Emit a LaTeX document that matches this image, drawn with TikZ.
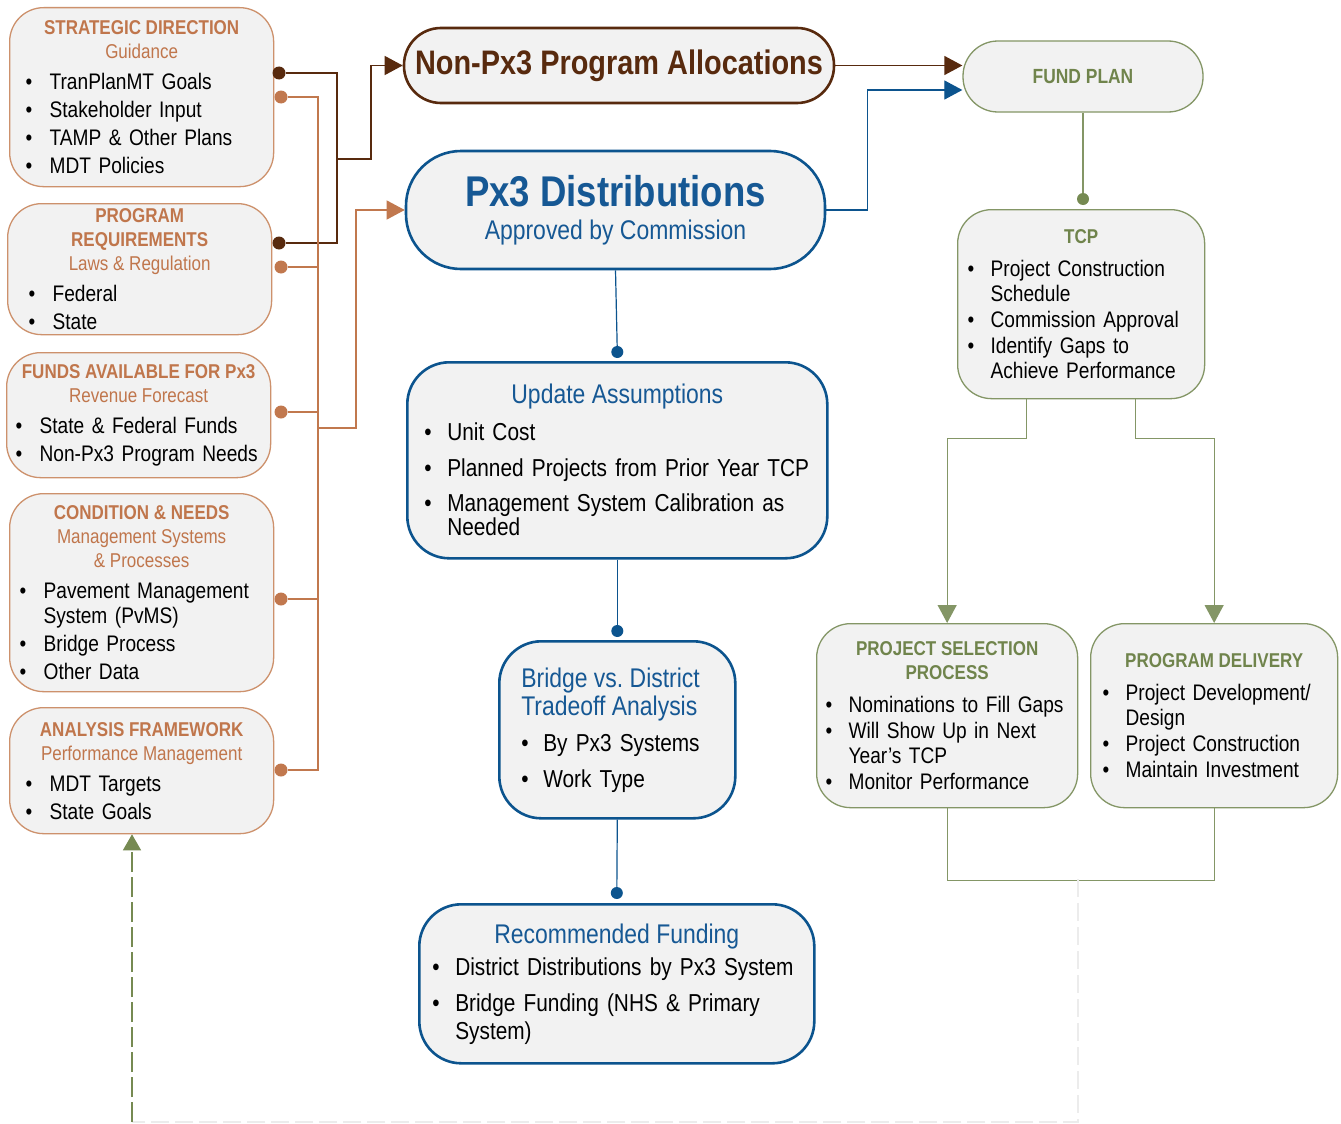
\documentclass[tikz,border=0pt]{standalone}
\usepackage{fontspec}
\setmainfont{Liberation Sans}[FakeStretch=0.85]
\usepackage{xcolor}
\usetikzlibrary{shapes,arrows,arrows.meta,positioning,calc}

\definecolor{boxfill}{HTML}{F2F2F2}
\definecolor{brline}{RGB}{205,145,108}
\definecolor{brtext}{RGB}{192,118,76}
\definecolor{brdot}{RGB}{193,120,78}
\definecolor{darkbr}{RGB}{88,42,14}
\definecolor{pxblue}{RGB}{12,84,142}
\definecolor{bltext}{RGB}{22,88,148}
\definecolor{grline}{RGB}{132,150,102}
\definecolor{grtext}{RGB}{112,132,76}
\definecolor{grarrow}{RGB}{118,138,82}
\definecolor{faint}{RGB}{236,236,236}
\colorlet{hdc}{brtext}

\setlength\parindent{0pt}
\frenchspacing
\newlength\itsep
\newlength\hdsep
\newlength\bind
% font size with word space fixed to the size in force
\newcommand\fs[2]{\fontsize{#1}{#2}\selectfont\spaceskip=0.236em plus 0.08em minus 0.04em\relax}
\newcommand\hd[1]{{\centering\fs{20}{24}\bfseries\spaceskip=0.236em\relax\color{hdc}#1\par}}
\newcommand\subhd[1]{{\centering\fs{20}{24}\color{hdc}#1\par}}
\newcommand\ttl[2][\centering]{{#1\fs{27}{28}\color{bltext}#2\par}}
\newcommand\hdgap{\vspace{\hdsep}}
\newcommand\bitem[1]{\par\vspace{\itsep}\noindent\hangindent=\bind\hangafter=1\makebox[\bind][l]{\textbullet}#1\par}

\tikzset{
  box/.style={fill=boxfill, anchor=north west, inner ysep=0pt},
  lbox/.style={box, draw=brline, line width=1.3pt, rounded corners=34pt,
    font=\fs{22.5}{25},
    execute at begin node={\colorlet{hdc}{brtext}\setlength\itsep{3pt}\setlength\hdsep{3pt}\setlength\bind{24pt}\raggedright}},
  cbox/.style={box, draw=pxblue, line width=2.6pt, rounded corners=42pt,
    font=\fs{24.5}{24},
    execute at begin node={\setlength\itsep{11.5pt}\setlength\hdsep{1.5pt}\setlength\bind{23pt}\raggedright}},
  rbox/.style={box, draw=grline, line width=1.3pt, rounded corners=34pt,
    font=\fs{22.5}{25},
    execute at begin node={\colorlet{hdc}{grtext}\setlength\itsep{1pt}\setlength\hdsep{7pt}\setlength\bind{23pt}\raggedright}},
  dot/.style={circle, inner sep=0pt, minimum size=13pt},
  dkln/.style={draw=darkbr, line width=1.3pt},
  orln/.style={draw=brdot, line width=1.2pt},
  blln/.style={draw=pxblue, line width=1.2pt},
  grln/.style={draw=grline, line width=1.3pt},
  tip/.style={-{Triangle[length=18pt,width=19pt]}},
  fbline/.style={draw=faint, line width=1.2pt, dash pattern=on 18pt off 6pt},
  fbarrow/.style={draw=grarrow, line width=1.2pt, dash pattern=on 20pt off 5pt, -{Triangle[length=16pt,width=18pt]}}
}

\begin{document}
\begin{tikzpicture}[x=1pt,y=-1pt]
  \path[use as bounding box,fill=white] (0,0) rectangle (1341,1124);

  % left column: inputs
  \node[lbox,minimum width=264pt,minimum height=179pt,text width=232pt,inner xsep=16pt] (strat) at (9,7)
    {\hd{STRATEGIC DIRECTION}\subhd{Guidance}\hdgap
     \bitem{TranPlanMT Goals}\bitem{Stakeholder Input}\bitem{TAMP \& Other Plans}\bitem{MDT Policies}};
  \node[lbox,minimum width=264pt,minimum height=131pt,text width=222pt,inner xsep=21pt] (preq) at (7,203)
    {\hd{PROGRAM}\hd{REQUIREMENTS}\subhd{Laws \& Regulation}\hdgap
     \bitem{Federal}\bitem{State}};
  \node[lbox,minimum width=264pt,minimum height=125pt,text width=246pt,inner xsep=9pt] (funds) at (6,352)
    {\hd{FUNDS AVAILABLE FOR Px3}\subhd{Revenue Forecast}\hdgap
     \bitem{State \& Federal Funds}\bitem{Non-Px3 Program Needs}\vspace{-6pt}};
  \node[lbox,minimum width=264pt,minimum height=198pt,text width=244pt,inner xsep=10pt] (cond) at (9,493)
    {\hd{CONDITION \& NEEDS}\subhd{Management Systems}\subhd{\& Processes}\hdgap
     \bitem{Pavement Management\newline System (PvMS)}\bitem{Bridge Process}\bitem{Other Data}};
  \node[lbox,minimum width=264pt,minimum height=126pt,text width=232pt,inner xsep=16pt] (anal) at (9,707)
    {\hd{ANALYSIS FRAMEWORK}\subhd{Performance Management}\hdgap
     \bitem{MDT Targets}\bitem{State Goals}};

  % middle column
  \node[draw=darkbr,line width=2.6pt,fill=boxfill,rounded corners=37pt,minimum width=430pt,minimum height=75pt,
    text=darkbr,font=\bfseries\fs{34}{40}] (nonpx) at (619,65.5) {Non-Px3 Program Allocations};
  \node[draw=pxblue,line width=2.6pt,fill=boxfill,rounded corners=55pt,minimum width=419pt,minimum height=118pt,
    text width=400pt,inner xsep=9.5pt,text=bltext] (px3) at (615.5,210)
    {\centering{\bfseries\fs{43}{46}Px3 Distributions\par}\fs{27}{33}Approved by Commission\par};
  \node[cbox,minimum width=420pt,minimum height=196pt,text width=386pt,inner xsep=17pt] (upd) at (406,361)
    {\ttl{Update Assumptions}\hdgap
     \bitem{Unit Cost}\bitem{Planned Projects from Prior Year TCP}\bitem{Management System Calibration as\newline Needed}};
  \node[cbox,minimum width=236pt,minimum height=177pt,text width=192pt,inner xsep=22pt,
    execute at begin node={\setlength\itsep{12pt}\setlength\hdsep{0pt}\setlength\bind{22pt}}] (bridge) at (498,640)
    {\ttl[\raggedright]{Bridge vs. District\newline Tradeoff Analysis}\hdgap
     \bitem{By Px3 Systems}\bitem{Work Type}};
  \node[cbox,minimum width=395pt,minimum height=159pt,text width=369pt,inner xsep=13pt,font=\fs{24.5}{28},
    execute at begin node={\setlength\itsep{8pt}\setlength\hdsep{-4pt}}] (rec) at (418,903)
    {\ttl{Recommended Funding}\hdgap
     \bitem{District Distributions by Px3 System}\bitem{Bridge Funding (NHS \& Primary\newline System)}\vspace{-8pt}};

  % right column
  \node[draw=grline,line width=1.3pt,fill=boxfill,rounded corners=35pt,minimum width=240pt,minimum height=71pt,
    text=grtext,font=\bfseries\fs{20.5}{24}] (fund) at (1083,76.5) {FUND PLAN};
  \node[rbox,minimum width=247pt,minimum height=189pt,text width=227pt,inner xsep=10pt] (tcp) at (957,209)
    {\hd{TCP}\hdgap
     \bitem{Project Construction\newline Schedule}\bitem{Commission Approval}\bitem{Identify Gaps to\newline Achieve Performance}};
  \node[rbox,minimum width=261pt,minimum height=184pt,text width=243pt,inner xsep=9pt] (psel) at (816,623)
    {\hd{PROJECT SELECTION}\hd{PROCESS}\hdgap
     \bitem{Nominations to Fill Gaps}\bitem{Will Show Up in Next\newline Year’s TCP}\bitem{Monitor Performance}};
  \node[rbox,minimum width=247pt,minimum height=184pt,text width=223pt,inner xsep=12pt] (pdel) at (1090,623)
    {\hd{PROGRAM DELIVERY}\hdgap
     \bitem{Project Development/\newline Design}\bitem{Project Construction}\bitem{Maintain Investment}};

  % dots
  \node[dot,fill=darkbr] (sd) at (279,73) {};
  \node[dot,fill=darkbr] (pd) at (279,243) {};
  \node[dot,fill=brdot] (so) at (281,97) {};
  \node[dot,fill=brdot] (po) at (281,267) {};
  \node[dot,fill=brdot] (fo) at (281,412) {};
  \node[dot,fill=brdot] (co) at (281,599) {};
  \node[dot,fill=brdot] (ao) at (281,770) {};
  \node[dot,fill=pxblue,minimum size=12pt] (ud) at ([yshift=9pt]upd.north) {};
  \node[dot,fill=pxblue,minimum size=12pt] (bd) at ([yshift=9pt]bridge.north) {};
  \node[dot,fill=pxblue,minimum size=12pt] (rd) at ([yshift=10pt]rec.north) {};
  \node[dot,fill=grarrow,minimum size=12pt] (td) at (fund.south |- 0,199) {};

  % bus lines on the left
  \coordinate (dbus) at (337,0);
  \coordinate (obus) at (318,0);
  \draw[dkln] (sd) -| (dbus |- pd) -- (pd);
  \draw[dkln,tip] (dbus |- 0,159) -- ++(34,0) |- (nonpx.west);
  \draw[orln] (so) -| (obus |- ao) -- (ao);
  \draw[orln] (po) -- (po -| obus);
  \draw[orln] (fo) -- (fo -| obus);
  \draw[orln] (co) -- (co -| obus);
  \draw[orln,tip] (obus |- 0,428) -- ++(38,0) |- (px3.west);

  % middle chain
  \draw[blln] (px3.south) -- (ud);
  \draw[blln] (upd.south) -- (bd);
  \draw[blln] (bridge.south) -- (rd);
  \draw[dkln,tip] (nonpx.east) -- (nonpx.east -| fund.west);
  \draw[blln,tip] (px3.east) -- ++(41,0) |- ([yshift=-13.5pt]fund.west);

  % right chain
  \draw[grln] (fund.south) -- (td);
  \draw[grln,tip] ([xshift=-54.5pt]tcp.south) -- ++(0,39) -| (psel.north);
  \draw[grln,tip] ([xshift=54.5pt]tcp.south) -- ++(0,39) -| (pdel.north);
  \draw[grln] (psel.south) -- ++(0,72) -| (pdel.south);

  % feedback loop
  \coordinate (fbtop) at (1078,879);
  \coordinate (fbcorner) at (132,1122);
  \draw[fbline] (fbtop) |- (fbcorner);
  \draw[fbarrow] (fbcorner) -- (fbcorner |- anal.south);
\end{tikzpicture}
\end{document}
